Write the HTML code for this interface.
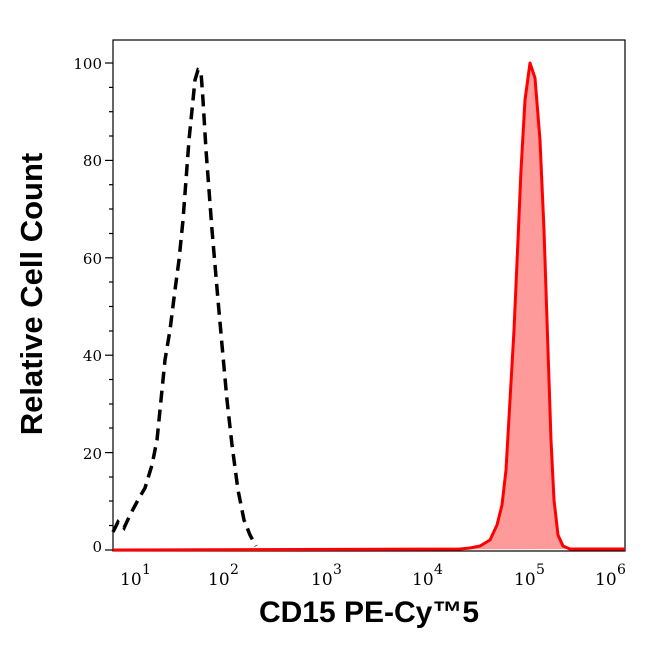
<!DOCTYPE html>
<html><head><style>
body{margin:0;background:#fff;}
svg text{font-family:"DejaVu Serif","Liberation Serif",serif;}
</style></head><body>
<svg width="646" height="641" viewBox="0 0 646 641" xmlns="http://www.w3.org/2000/svg">
<rect x="113" y="40" width="512" height="511" fill="none" stroke="#000" stroke-width="1.2"/>
<g stroke="#000" stroke-width="1.2">
<line x1="105" y1="63" x2="113" y2="63"/><line x1="105" y1="160.4" x2="113" y2="160.4"/>
<line x1="105" y1="257.8" x2="113" y2="257.8"/><line x1="105" y1="355.2" x2="113" y2="355.2"/>
<line x1="105" y1="452.6" x2="113" y2="452.6"/><line x1="105" y1="550" x2="113" y2="550"/>
<line x1="109" y1="87.4" x2="113" y2="87.4"/><line x1="109" y1="111.7" x2="113" y2="111.7"/><line x1="109" y1="136" x2="113" y2="136"/>
<line x1="109" y1="184.7" x2="113" y2="184.7"/><line x1="109" y1="209" x2="113" y2="209"/><line x1="109" y1="233.5" x2="113" y2="233.5"/>
<line x1="109" y1="282" x2="113" y2="282"/><line x1="109" y1="306.5" x2="113" y2="306.5"/><line x1="109" y1="331" x2="113" y2="331"/>
<line x1="109" y1="379.5" x2="113" y2="379.5"/><line x1="109" y1="404" x2="113" y2="404"/><line x1="109" y1="428" x2="113" y2="428"/>
<line x1="109" y1="477" x2="113" y2="477"/><line x1="109" y1="501" x2="113" y2="501"/><line x1="109" y1="525.5" x2="113" y2="525.5"/>
</g>
<g font-size="15" text-anchor="end">
<text x="102" y="69">100</text><text x="102" y="166">80</text><text x="102" y="264">60</text>
<text x="102" y="361">40</text><text x="102" y="459">20</text><text x="102" y="552">0</text>
</g>
<g stroke="#000" stroke-width="1.2" id="xt"></g>
<g font-size="17">
<text x="120" y="585">10</text><text x="142" y="574" font-size="14">1</text>
<text x="208" y="585">10</text><text x="230" y="574" font-size="14">2</text>
<text x="311" y="585">10</text><text x="333" y="574" font-size="14">3</text>
<text x="412" y="585">10</text><text x="434" y="574" font-size="14">4</text>
<text x="514" y="585">10</text><text x="536" y="574" font-size="14">5</text>
<text x="595" y="585">10</text><text x="617" y="574" font-size="14">6</text>
</g>
<path d="M113,550 L460,549 L470,548 L480,546 L490,540 L497,525 L502,505 L506,470 L510,400 L514,330 L518,240 L521,170 L525,100 L530,63 L535,78 L540,140 L544,230 L548,350 L551,440 L554,500 L558,535 L563,546 L570,549 L625,549" fill="#ff9a9a" stroke="#ff0000" stroke-width="3" stroke-linejoin="round"/>
<path d="M113,532 L118,522 L124,528 L130,515 L138,500 L145,488 L152,465 L157,440 L161,400 L165,360 L170,330 L175,290 L179,260 L183,220 L186,180 L189,140 L192,110 L195,80 L198,70 L201,72 L203,100 L206,150 L209,190 L212,230 L215,265 L218,300 L222,345 L227,400 L232,445 L238,490 L244,520 L250,535 L256,546" fill="none" stroke="#000" stroke-width="3.5" stroke-dasharray="12,7"/>
<text x="42" y="294" transform="rotate(-90 42 294)" font-size="31" font-weight="bold" text-anchor="middle" style="font-family:'Liberation Sans',sans-serif">Relative Cell Count</text>
<text x="369" y="622" font-size="30" font-weight="bold" text-anchor="middle" style="font-family:'Liberation Sans',sans-serif">CD15 PE-Cy™5</text>
<script>
var g=document.getElementById('xt'),s='';
for(var d=0;d<6;d++){for(var k=1;k<10;k++){var x=115+102*(d+Math.log10(k));if(x<113||x>626)continue;var L=k==1?8:4;s+='<line x1="'+x+'" y1="551" x2="'+x+'" y2="'+(551+L)+'"/>';}}
s+='<line x1="625" y1="551" x2="625" y2="559"/>';
g.innerHTML=s;
</script>
</svg>
</body></html>
